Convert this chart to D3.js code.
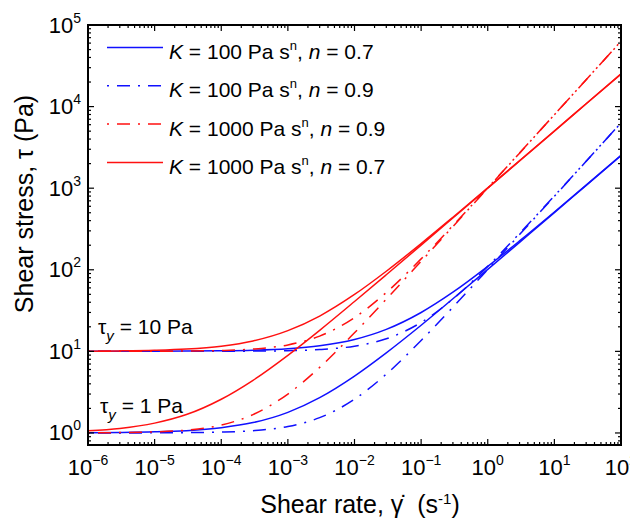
<!DOCTYPE html>
<html lang="en">

<head>
    <meta charset="UTF-8">
    <title>Herschel-Bulkley flow curves</title>
    <script src="https://d3js.org/d3.v7.min.js"></script>
    <style>
        body { margin: 0; background: #fff; }
        text { font-family: "Liberation Sans", Arial, sans-serif; fill: #000; }
    </style>
</head>

<body>
    <div id="chart"></div>
    <script>
        const width = 630;
        const height = 522;

        // shear rate samples (s^-1)
        const shearRate = [1e-6, 3e-6, 1e-5, 3e-5, 1e-4, 3e-4, 1e-3, 3e-3, 1e-2, 3e-2, 1e-1, 3e-1, 1, 3, 10, 30, 100];

        // shear stress (Pa)
        const k100n07ty1   = [1.006, 1.014, 1.032, 1.068, 1.16, 1.34, 1.79, 2.71, 4.98, 9.59, 20.9, 44.1, 101, 217, 502, 1083, 2513];
        const k100n07ty10  = [10.006, 10.014, 10.03, 10.07, 10.16, 10.34, 10.79, 11.71, 13.98, 18.59, 29.95, 53.05, 110, 225.8, 511, 1092, 2522];
        const k100n09ty1   = [1.0004, 1.001, 1.003, 1.009, 1.025, 1.068, 1.2, 1.54, 2.59, 5.26, 13.6, 34.8, 101, 270, 795, 2136, 6311];
        const k100n09ty10  = [10.0004, 10.001, 10.003, 10.009, 10.025, 10.07, 10.2, 10.54, 11.59, 14.26, 22.6, 43.8, 110, 279, 804, 2145, 6320];
        const k1000n09ty1  = [1.004, 1.011, 1.032, 1.085, 1.25, 1.68, 3.0, 6.36, 16.9, 43.6, 127, 339, 1001, 2689, 7944, 21350, 63100];
        const k1000n09ty10 = [10.004, 10.011, 10.03, 10.09, 10.25, 10.68, 12.0, 15.36, 25.9, 52.6, 136, 348, 1010, 2698, 7953, 21360, 63110];
        const k1000n07ty1  = [1.063, 1.136, 1.32, 1.68, 2.59, 4.42, 8.94, 18.1, 40.8, 86.9, 200.5, 431.5, 1001, 2159, 5013, 10821, 25121];
        const k1000n07ty10 = [10.06, 10.14, 10.32, 10.68, 11.59, 13.42, 17.94, 27.1, 49.8, 95.9, 209.5, 440.5, 1010, 2168, 5022, 10830, 25130];

        const legendK = ["100", "100", "1000", "1000"];
        const legendN = ["0.7", "0.9", "0.9", "0.7"];

        const xTicks = [-6, -5, -4, -3, -2, -1, 0, 1, 2];
        const yTicks = [0, 1, 2, 3, 4, 5];

        const blue = "#1010ff";
        const red = "#ff1010";
        const dashDot = "2,8,13,8";

        // series: [values, colour, dash]
        const series = [
            [k100n09ty1, blue, dashDot],
            [k100n09ty10, blue, dashDot],
            [k100n07ty1, blue, null],
            [k100n07ty10, blue, null],
            [k1000n09ty1, red, dashDot],
            [k1000n09ty10, red, dashDot],
            [k1000n07ty1, red, null],
            [k1000n07ty10, red, null]
        ];

        const margin = { left: 88, right: 9, top: 25, bottom: 77 };
        const x0 = margin.left, x1 = width - margin.right;
        const y0 = height - margin.bottom, y1 = margin.top;

        const x = d3.scaleLog().domain([1e-6, 1e2]).range([x0, x1]);
        const y = d3.scaleLog().domain([0.712, 1e5]).range([y0, y1]);

        const svg = d3.select("#chart")
            .append("svg")
            .attr("width", width)
            .attr("height", height);

        svg.append("clipPath").attr("id", "clip")
            .append("rect")
            .attr("x", x0).attr("y", y1)
            .attr("width", x1 - x0).attr("height", y0 - y1);

        // curves
        const line = d3.line()
            .x((d, i) => x(shearRate[i]))
            .y(d => y(d))
            .curve(d3.curveMonotoneX);

        svg.append("g")
            .attr("clip-path", "url(#clip)")
            .selectAll("path")
            .data(series)
            .enter()
            .append("path")
            .attr("d", d => line(d[0]))
            .attr("fill", "none")
            .attr("stroke", d => d[1])
            .attr("stroke-width", 1.5)
            .attr("stroke-dasharray", d => d[2]);

        // ticks on all four sides, pointing inward
        const minor = (lo, hi) => {
            const out = [];
            for (let e = Math.floor(Math.log10(lo)); e <= Math.ceil(Math.log10(hi)); e++) {
                for (let m = 2; m <= 9; m++) {
                    const v = m * Math.pow(10, e);
                    if (v > lo && v < hi) out.push(v);
                }
            }
            return out;
        };

        const tickG = svg.append("g").attr("stroke", "#000").attr("stroke-width", 1.2);
        const xMajor = xTicks.map(e => Math.pow(10, e));
        const yMajor = yTicks.map(e => Math.pow(10, e));
        const xMinor = minor(1e-6, 1e2);
        const yMinor = minor(0.712, 1e5);

        [[xMajor, 6], [xMinor, 3]].forEach(([vals, len]) => {
            vals.forEach(v => {
                tickG.append("line").attr("x1", x(v)).attr("x2", x(v)).attr("y1", y0).attr("y2", y0 - len);
                tickG.append("line").attr("x1", x(v)).attr("x2", x(v)).attr("y1", y1).attr("y2", y1 + len);
            });
        });
        [[yMajor, 6], [yMinor, 3]].forEach(([vals, len]) => {
            vals.forEach(v => {
                tickG.append("line").attr("y1", y(v)).attr("y2", y(v)).attr("x1", x0).attr("x2", x0 + len);
                tickG.append("line").attr("y1", y(v)).attr("y2", y(v)).attr("x1", x1).attr("x2", x1 - len);
            });
        });

        // frame
        svg.append("rect")
            .attr("x", x0).attr("y", y1)
            .attr("width", x1 - x0).attr("height", y0 - y1)
            .attr("fill", "none")
            .attr("stroke", "#000")
            .attr("stroke-width", 2);

        // tick labels
        xTicks.forEach(e => {
            const t = svg.append("text")
                .attr("x", x(Math.pow(10, e)))
                .attr("y", y0 + 30)
                .attr("text-anchor", "middle")
                .attr("font-size", 22);
            t.append("tspan").text("10");
            t.append("tspan").attr("dy", -10).attr("font-size", 14).text(e < 0 ? "\u2212" + (-e) : e);
        });
        yTicks.forEach(e => {
            const t = svg.append("text")
                .attr("x", 81)
                .attr("y", y(Math.pow(10, e)) + 7.5)
                .attr("text-anchor", "end")
                .attr("font-size", 22);
            t.append("tspan").text("10");
            t.append("tspan").attr("dy", -10).attr("font-size", 14).text(e);
        });

        // axis titles
        const xt = svg.append("text")
            .attr("x", 360)
            .attr("y", 513)
            .attr("text-anchor", "middle")
            .attr("font-size", 25);
        xt.append("tspan").text("Shear rate, \u03B3\u0307\u00A0 (s");
        xt.append("tspan").attr("dy", -9).attr("font-size", 15).text("-1");
        xt.append("tspan").attr("dy", 9).text(")");

        svg.append("text")
            .attr("transform", "translate(33,204) rotate(-90)")
            .attr("text-anchor", "middle")
            .attr("font-size", 25)
            .text("Shear stress, \u03C4 (Pa)");

        // yield stress annotations
        [["10", 98, 334], ["1", 100, 413]].forEach(([v, ax, ay]) => {
            const t = svg.append("text").attr("x", ax).attr("y", ay).attr("font-size", 21);
            t.append("tspan").text("\u03C4");
            t.append("tspan").attr("dy", 7).attr("font-size", 15).attr("font-style", "italic").text("y");
            t.append("tspan").attr("dy", -7).text(" = " + v + " Pa");
        });

        // legend
        const legendColor = [blue, blue, red, red];
        const legendDash = [null, dashDot, dashDot, null];
        legendK.forEach((k, i) => {
            const ly = 47.5 + i * 38.3;
            svg.append("line")
                .attr("x1", 107).attr("x2", 163)
                .attr("y1", ly).attr("y2", ly)
                .attr("stroke", legendColor[i])
                .attr("stroke-width", 1.5)
                .attr("stroke-dasharray", legendDash[i]);
            const t = svg.append("text").attr("x", 169).attr("y", ly + 11.5).attr("font-size", 21);
            t.append("tspan").attr("font-style", "italic").text("K");
            t.append("tspan").text(" = " + k + " Pa s");
            t.append("tspan").attr("dy", -9).attr("font-size", 13).text("n");
            t.append("tspan").attr("dy", 9).text(", ");
            t.append("tspan").attr("font-style", "italic").text("n");
            t.append("tspan").text(" = " + legendN[i]);
        });
    </script>
</body>

</html>
